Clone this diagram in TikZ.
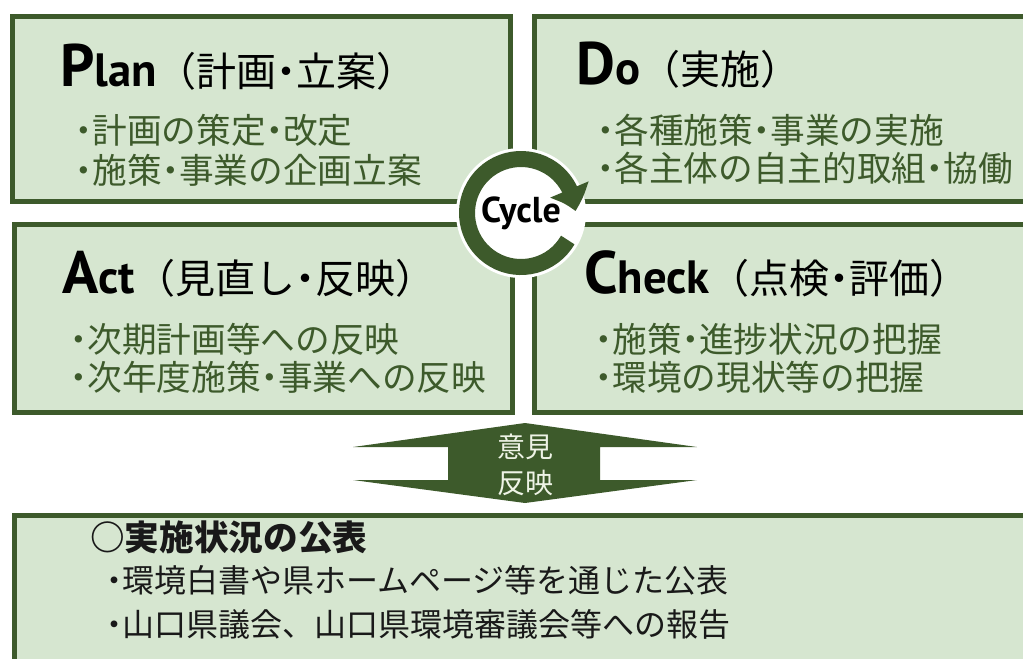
\documentclass[tikz,border=0pt]{standalone}
\usepackage{fontspec}
\setmainfont{Noto Sans CJK JP}
\newfontfamily\jpfont{Noto Sans CJK JP}
\newfontfamily\jpnarrow[RawFeature=+palt]{Noto Sans CJK JP}
\newfontfamily\headfont{PT Sans}
\usetikzlibrary{arrows.meta,bending}
\definecolor{pdcagreen}{HTML}{3D5A2B}
\definecolor{pdcafill}{HTML}{D6E6D0}
\definecolor{pdcalight}{HTML}{EEF3E6}
\newcommand{\ndot}{{\jpnarrow ・}}
\newcommand{\hd}[2]{{\headfont\bfseries\fontsize{45}{45}\selectfont #1\fontsize{35}{35}\selectfont #2}}
\tikzset{
  phase/.style={draw=pdcagreen,line width=3.75pt,fill=pdcafill},
  heading/.style={anchor=base west,inner sep=0pt,font=\jpfont\fontsize{30}{30}\selectfont},
  item/.style={anchor=west,inner sep=0pt,text=pdcagreen,font=\jpfont\fontsize{26}{26}\selectfont},
  report/.style={anchor=west,inner sep=0pt,text=black!90,font=\jpfont\fontsize{24}{24}\selectfont}
}
\begin{document}
\begin{tikzpicture}[x=0.75pt,y=-0.75pt,>={Triangle[length=17pt,width=30pt,bend]}]
          \useasboundingbox (0,0) rectangle (1023,658);
          \clip (0,0) rectangle (1023,658);
          \draw[phase] (12.5,16.5) rectangle (510.5,201.5);
          \draw[phase] (534.5,16.5) rectangle (1030,201.5);
          \draw[phase] (14,224.5) rectangle (512.5,412.5);
          \draw[phase] (534.5,224.5) rectangle (1030,412.5);
          \draw[phase] (14,515.5) rectangle (1030,670);
          \node[heading] (planhd) at (60,86) {\hd{P}{lan}（計画\ndot 立案）};
          \node[item] (plan1) at (75,130) {\ndot 計画の策定\ndot 改定};
          \node[item] (plan2) at (75,170) {\ndot 施策\ndot 事業の企画立案};
          \node[heading] (dohd) at (576,84) {\hd{D}{o}（実施）};
          \node[item] (do1) at (597,130) {\ndot 各種施策\ndot 事業の実施};
          \node[item] (do2) at (597,168) {\ndot 各主体の自主的取組\ndot 協働};
          \node[heading] (acthd) at (62,293) {\hd{A}{ct}（見直し\ndot 反映）};
          \node[item] (act1) at (70,339) {\ndot 次期計画等への反映};
          \node[item] (act2) at (70,377) {\ndot 次年度施策\ndot 事業への反映};
          \node[heading] (checkhd) at (584,293) {\hd{C}{heck}（点検\ndot 評価）};
          \node[item] (check1) at (595,339) {\ndot 施策\ndot 進捗状況の把握};
          \node[item] (check2) at (595,377) {\ndot 環境の現状等の把握};
          \coordinate (cyc) at (521,213);
          \fill[white] (cyc) circle[radius=65];
          \draw[pdcagreen,line width=12pt,->] ([shift={(30:54)}]cyc) arc[start angle=30,end angle=358,radius=54];
          \node[font=\headfont\bfseries\fontsize{27}{27}\selectfont] (cycle) at (cyc) {Cycle};
          \fill[pdcagreen] (525,423) -- (697,447) -- (600,447) -- (600,480) -- (697,480) -- (525,503) -- (353,480) -- (448,480) -- (448,447) -- (353,447) -- cycle;
          \node[text=pdcalight,align=center,font=\jpfont\fontsize{21}{27.5}\selectfont] (opinion) at (525,465) {意見\\反映};
          \node[report,font=\jpfont\bfseries\fontsize{26}{26}\selectfont] (pubhd) at (90,537) {○実施状況の公表};
          \node[report] (pub1) at (106,580) {\ndot 環境白書や県ホームページ等を通じた公表};
          \node[report] (pub2) at (106,624) {\ndot 山口県議会、山口県環境審議会等への報告};
        \end{tikzpicture}
\end{document}
